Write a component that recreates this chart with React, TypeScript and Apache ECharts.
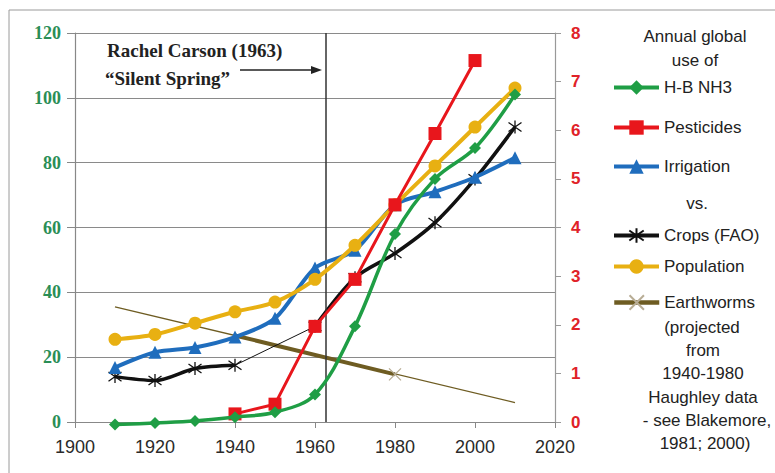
import React, { useEffect, useRef } from "react";
import * as echarts from "echarts";

const years = [1910, 1920, 1930, 1940, 1950, 1960, 1970, 1980, 1990, 2000, 2010];
const hbNh3 = [-0.8, -0.3, 0.3, 1.5, 3, 8.5, 29.5, 58, 75, 84.5, 101];
const pestYears = [1940, 1950, 1960, 1970, 1980, 1990, 2000];
const pesticides = [2.5, 5.5, 29.5, 44, 67, 89, 111.5];
const irrigation = [16.8, 21.5, 23, 26.2, 32, 47.5, 53, 67, 71, 75.5, 81.5];
const population = [25.5, 27, 30.5, 34, 37, 44, 54.5, 67, 79, 91, 103];
const cropsEarlyYears = [1910, 1920, 1930, 1940];
const cropsEarly = [14, 12.8, 16.5, 17.5];
const cropsGapYears = [1940, 1960];
const cropsGap = [17.5, 29.5];
const cropsLateYears = [1960, 1970, 1980, 1990, 2000, 2010];
const cropsLate = [29.5, 44.5, 52, 61.5, 75, 91];
const wormTrendYears = [1910, 2010];
const wormTrend = [2.37, 0.4];
const wormDataYears = [1940, 1980];
const wormData = [1.78, 0.98];
const xTicks = [1900, 1920, 1940, 1960, 1980, 2000, 2020];
const leftTicks = [0, 20, 40, 60, 80, 100, 120];
const rightTicks = [0, 1, 2, 3, 4, 5, 6, 7, 8];
const carsonYear = 1962.6;

const GREEN = "#1f9e45";
const RED = "#e8161c";
const BLUE = "#1f6dbd";
const GOLD = "#e8b012";
const BLACK = "#111111";
const OLIVE = "#6e5c22";

const ASTER = "path://M5,0L5,10M0.8,1.5L9.2,8.5M9.2,1.5L0.8,8.5";
const XMARK = "path://M0,1L10,9M10,1L0,9";

const pairs = (xs: number[], ys: number[]) => xs.map((x, i) => [x, ys[i]]);

const SANS = "'Liberation Sans', Arial, sans-serif";
const SERIF = "'Liberation Serif', 'Times New Roman', serif";

export default function App() {
  const ref = useRef<HTMLDivElement>(null);
  useEffect(() => {
    if (!ref.current) return;
    const chart = echarts.init(ref.current, null, { renderer: "svg" });
    const legendText = { fontFamily: SANS, fontSize: 17, color: "#222" };
    const mkLegend = (name: string, top: number, width: number) => ({
      data: [name],
      left: 612,
      top,
      orient: "vertical",
      itemWidth: 45,
      itemHeight: 18,
      itemGap: 0,
      padding: 0,
      textStyle: legendText,
      lineStyle: { width },
      selectedMode: false,
    });
    const centerText = (t: string, x: number, y: number) => ({
      type: "text",
      x,
      y,
      style: {
        text: t,
        fill: "#222",
        font: `17px ${SANS}`,
        textAlign: "center",
        textVerticalAlign: "middle",
      },
    });
    chart.setOption({
      animation: false,
      backgroundColor: "#fff",
      grid: { left: 75, right: 220, top: 33, bottom: 51, containLabel: false },
      xAxis: {
        type: "value",
        min: xTicks[0],
        max: xTicks[xTicks.length - 1],
        interval: 20,
        axisLine: { show: true, lineStyle: { color: "#888", width: 1.2 } },
        axisTick: { show: true, length: 6, lineStyle: { color: "#888" } },
        splitLine: { show: false },
        axisLabel: { color: "#2a2a2a", fontFamily: SANS, fontSize: 18, margin: 16, formatter: (v: number) => String(v) },
      },
      yAxis: [
        {
          type: "value",
          min: leftTicks[0],
          max: leftTicks[leftTicks.length - 1],
          interval: 20,
          axisLine: { show: true, lineStyle: { color: "#888", width: 1.2 } },
          axisTick: { show: true, length: 8, lineStyle: { color: "#888" } },
          splitLine: { show: true, lineStyle: { color: "#8a8a8a", width: 1.2 } },
          axisLabel: { color: "#2a8e56", fontFamily: SERIF, fontWeight: "bold", fontSize: 18, margin: 14 },
        },
        {
          type: "value",
          min: rightTicks[0],
          max: rightTicks[rightTicks.length - 1],
          interval: 1,
          position: "right",
          axisLine: { show: true, lineStyle: { color: "#999", width: 1.2 } },
          axisTick: { show: true, length: 6, lineStyle: { color: "#999" } },
          splitLine: { show: false },
          axisLabel: { color: "#e02228", fontFamily: SANS, fontWeight: "bold", fontSize: 17, margin: 16 },
        },
      ],
      legend: [
        mkLegend("H-B NH3", 79, 4),
        mkLegend("Pesticides", 119, 4),
        mkLegend("Irrigation", 158, 4),
        mkLegend("Crops (FAO)", 227, 4),
        mkLegend("Population", 258, 4),
        mkLegend("Earthworms", 294, 4.5),
      ],
      graphic: [
        { type: "rect", shape: { x: 9, y: 10, width: 820, height: 520 }, style: { fill: "none", stroke: "#9a9a9a", lineWidth: 1 }, silent: true },
        centerText("Annual global", 695, 36),
        centerText("use of", 695, 60),
        centerText("vs.", 697, 203),
        centerText("(projected", 702, 327),
        centerText("from", 703, 350),
        centerText("1940-1980", 703, 373),
        centerText("Haughley data", 703, 397),
        centerText("- see Blakemore,", 707, 420),
        centerText("1981; 2000)", 705, 443),
        {
          type: "text",
          x: 107,
          y: 50,
          style: { text: "Rachel Carson (1963)", fill: "#222", font: `bold 19px ${SERIF}`, textVerticalAlign: "middle" },
        },
        {
          type: "text",
          x: 105,
          y: 78,
          style: { text: "\u201CSilent Spring\u201D", fill: "#222", font: `bold 19px ${SERIF}`, textVerticalAlign: "middle" },
        },
        { type: "line", shape: { x1: 240, y1: 70, x2: 314, y2: 70 }, style: { stroke: "#222", lineWidth: 1.5 } },
        { type: "polygon", shape: { points: [[311, 66], [322, 70], [311, 74]] }, style: { fill: "#222" } },
      ],
      series: [
        {
          name: "Earthworms trend",
          type: "line",
          yAxisIndex: 1,
          data: pairs(wormTrendYears, wormTrend),
          symbol: "none",
          lineStyle: { color: OLIVE, width: 1.3 },
          z: 2,
          markLine: {
            silent: true,
            symbol: "none",
            label: { show: false },
            lineStyle: { color: "#333", width: 1.5, type: "solid" },
            data: [{ xAxis: carsonYear }],
          },
        },
        {
          name: "Earthworms",
          type: "line",
          yAxisIndex: 1,
          data: [
            { value: [wormDataYears[0], wormData[0]], symbol: "none" },
            { value: [wormDataYears[1], wormData[1]] },
          ],
          symbol: XMARK,
          symbolSize: 12,
          itemStyle: { color: "#b8ad95", borderColor: "#b8ad95", borderWidth: 1.3 },
          lineStyle: { color: OLIVE, width: 4 },
          z: 3,
        },
        {
          name: "Crops (FAO)",
          type: "line",
          data: pairs(cropsEarlyYears, cropsEarly),
          smooth: 0.3,
          symbol: ASTER,
          symbolSize: 13,
          itemStyle: { color: BLACK, borderColor: BLACK, borderWidth: 1.3 },
          lineStyle: { color: BLACK, width: 3.5 },
          z: 4,
        },
        {
          name: "Crops gap",
          type: "line",
          data: pairs(cropsGapYears, cropsGap),
          symbol: "none",
          lineStyle: { color: BLACK, width: 1 },
          z: 4,
        },
        {
          name: "Crops late",
          type: "line",
          data: pairs(cropsLateYears, cropsLate),
          smooth: 0.3,
          symbol: ASTER,
          symbolSize: 13,
          itemStyle: { color: BLACK, borderColor: BLACK, borderWidth: 1.3 },
          lineStyle: { color: BLACK, width: 3.5 },
          z: 4,
        },
        {
          name: "Irrigation",
          type: "line",
          data: pairs(years, irrigation),
          smooth: 0.3,
          symbol: "triangle",
          symbolSize: 13,
          itemStyle: { color: BLUE },
          lineStyle: { color: BLUE, width: 4 },
          z: 5,
        },
        {
          name: "Population",
          type: "line",
          data: pairs(years, population),
          smooth: 0.3,
          symbol: "circle",
          symbolSize: 13,
          itemStyle: { color: GOLD },
          lineStyle: { color: GOLD, width: 4 },
          z: 6,
        },
        {
          name: "Pesticides",
          type: "line",
          data: pairs(pestYears, pesticides),
          symbol: "rect",
          symbolSize: 13,
          itemStyle: { color: RED },
          lineStyle: { color: RED, width: 3 },
          z: 7,
        },
        {
          name: "H-B NH3",
          type: "line",
          data: pairs(years, hbNh3),
          smooth: 0.35,
          clip: false,
          symbol: "diamond",
          symbolSize: 12,
          itemStyle: { color: GREEN },
          lineStyle: { color: GREEN, width: 3.5 },
          z: 8,
        },
      ],
    });
    return () => chart.dispose();
  }, []);
  return <div ref={ref} style={{ width: 775, height: 473, position: "absolute", left: 0, top: 0 }} />;
}
